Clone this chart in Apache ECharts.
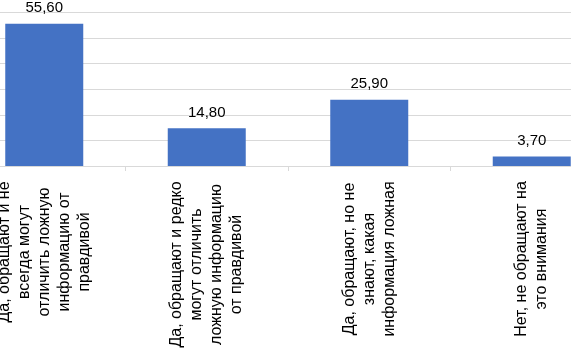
<!DOCTYPE html>
<html><head><meta charset="utf-8">
<script src="https://cdn.jsdelivr.net/npm/echarts@6/dist/echarts.min.js"></script>
<style>html,body{margin:0;padding:0;background:#fff;overflow:hidden;width:571px;height:351px;position:relative}#c{position:absolute;left:-37px;top:0;width:650px;height:351px}</style>
</head><body><div id="c"></div>
<script>
const categories = [
  "Да, обращают и не\nвсегда могут\nотличить ложную\nинформацию от\nправдивой",
  "Да, обращают и редко\nмогут отличить\nложную информацию\nот правдивой",
  "Да, обращают, но не\nзнают, какая\nинформация ложная",
  "Нет, не обращают на\nэто внимания"
];
const values = [55.6, 14.8, 25.9, 3.7];
const yTicks = [0, 10, 20, 30, 40, 50, 60];

const FONT = 16, FAM = '"Liberation Sans", Arial, sans-serif';
const ctx = document.createElement('canvas').getContext('2d');
ctx.font = FONT + 'px ' + FAM;
const rich = {};
categories.forEach((c, i) => {
  const w = Math.max(...c.split('\n').map(l => ctx.measureText(l).width));
  rich['l' + i] = {width: Math.ceil(w), align: 'center', fontSize: FONT, fontFamily: FAM, color: '#000', lineHeight: 20};
});

const chart = echarts.init(document.getElementById('c'), null, {renderer: 'canvas'});
chart.setOption({
  animation: false,
  grid: {left: 0, right: 0, top: 12.5, bottom: 184.5, containLabel: false},
  xAxis: {
    type: 'category', data: categories,
    axisLine: {lineStyle: {color: '#d9d9d9', width: 1}},
    axisTick: {show: true, alignWithLabel: false, length: 5, lineStyle: {color: '#d9d9d9'}},
    axisLabel: {
      interval: 0, rotate: 90, margin: 15,
      formatter: (v, i) => v.split('\n').map(l => '{l' + i + '|' + l + '}').join('\n'),
      rich: rich
    }
  },
  yAxis: {
    type: 'value', min: yTicks[0], max: yTicks[yTicks.length - 1], interval: 10,
    axisLabel: {show: false}, axisLine: {show: false}, axisTick: {show: false},
    splitLine: {lineStyle: {color: '#d9d9d9', width: 1}}
  },
  series: [{
    type: 'bar', data: values, barWidth: 78,
    itemStyle: {color: '#4472c4'},
    label: {
      show: true, position: 'top', distance: 8,
      fontSize: 15, fontFamily: FAM, color: '#000',
      formatter: p => p.value.toFixed(2).replace('.', ',')
    }
  }]
});
</script></body></html>
